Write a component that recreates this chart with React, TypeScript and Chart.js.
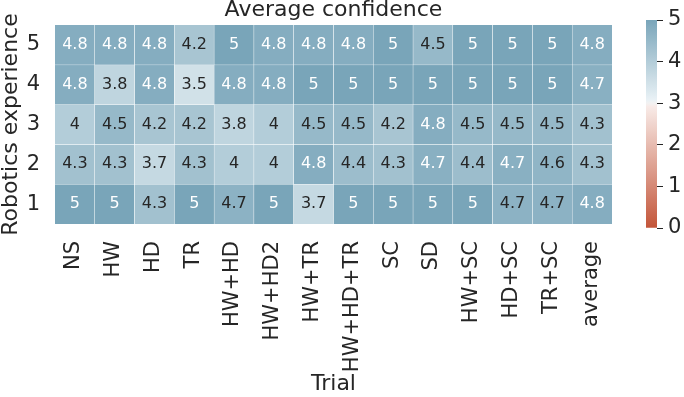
import React, { useEffect, useRef } from "react";
import { Chart, registerables } from "chart.js";

Chart.register(...registerables);

const TRIALS = ["NS", "HW", "HD", "TR", "HW+HD", "HW+HD2", "HW+TR", "HW+HD+TR", "SC", "SD", "HW+SC", "HD+SC", "TR+SC", "average"];
const EXPERIENCE = [5, 4, 3, 2, 1];

const ROW_5 = [4.8, 4.8, 4.8, 4.2, 5, 4.8, 4.8, 4.8, 5, 4.5, 5, 5, 5, 4.8];
const ROW_4 = [4.8, 3.8, 4.8, 3.5, 4.8, 4.8, 5, 5, 5, 5, 5, 5, 5, 4.73];
const ROW_3 = [4, 4.5, 4.2, 4.2, 3.8, 4, 4.5, 4.5, 4.2, 4.8, 4.5, 4.5, 4.5, 4.3];
const ROW_2 = [4.3, 4.3, 3.7, 4.3, 4, 4, 4.8, 4.4, 4.3, 4.73, 4.4, 4.73, 4.6, 4.3];
const ROW_1 = [5, 5, 4.3, 5, 4.67, 5, 3.7, 5, 5, 5, 5, 4.67, 4.67, 4.8];
const ROWS = [ROW_5, ROW_4, ROW_3, ROW_2, ROW_1];

const COLORBAR_TICKS = [0, 1, 2, 3, 4, 5];
const V_MIN = 0;
const V_MAX = 5;
const V_CENTER = 3;

const TITLE = "Average confidence";
const X_TITLE = "Trial";
const Y_TITLE = "Robotics experience";

const FONT = "'DejaVu Sans', sans-serif";
const TEXT = "#262626";

type RGB = [number, number, number];
const RED: RGB = [195, 85, 57];
const BLUE: RGB = [63, 125, 154];
const MID: RGB = [242, 242, 242];

function rgbToHls([r, g, b]: RGB): [number, number, number] {
  const R = r / 255, G = g / 255, B = b / 255;
  const mx = Math.max(R, G, B), mn = Math.min(R, G, B);
  const l = (mx + mn) / 2;
  if (mx === mn) return [0, l, 0];
  const d = mx - mn;
  const s = l <= 0.5 ? d / (mx + mn) : d / (2 - mx - mn);
  let h;
  if (mx === R) h = ((G - B) / d) % 6;
  else if (mx === G) h = (B - R) / d + 2;
  else h = (R - G) / d + 4;
  h = (h * 60 + 360) % 360;
  return [h, l, s];
}
function hlsToRgb(h: number, l: number, s: number): RGB {
  const c = (1 - Math.abs(2 * l - 1)) * s;
  const x = c * (1 - Math.abs(((h / 60) % 2) - 1));
  const m = l - c / 2;
  let r = 0, g = 0, b = 0;
  if (h < 60) [r, g, b] = [c, x, 0];
  else if (h < 120) [r, g, b] = [x, c, 0];
  else if (h < 180) [r, g, b] = [0, c, x];
  else if (h < 240) [r, g, b] = [0, x, c];
  else if (h < 300) [r, g, b] = [x, 0, c];
  else [r, g, b] = [c, 0, x];
  return [(r + m) * 255, (g + m) * 255, (b + m) * 255];
}
function tint(rgb: RGB): RGB {
  const [h, , s] = rgbToHls(rgb);
  return hlsToRgb(h, 0.95, s);
}
const RED_LIGHT = tint(RED);
const BLUE_LIGHT = tint(BLUE);

function lerp(a: RGB, b: RGB, t: number): RGB {
  return [a[0] + (b[0] - a[0]) * t, a[1] + (b[1] - a[1]) * t, a[2] + (b[2] - a[2]) * t];
}
function cmap(v: number): RGB {
  const vr = Math.max(V_MAX - V_CENTER, V_CENTER - V_MIN);
  const p = (v - (V_CENTER - vr)) / (2 * vr);
  if (p < 0.498) return lerp(RED, RED_LIGHT, p / 0.498);
  if (p > 0.502) return lerp(BLUE_LIGHT, BLUE, (p - 0.502) / 0.498);
  return MID;
}
function rgbStr(c: RGB) {
  return `rgb(${Math.round(c[0])},${Math.round(c[1])},${Math.round(c[2])})`;
}
function lum([r, g, b]: RGB) {
  const f = (c: number) => {
    c /= 255;
    return c <= 0.03928 ? c / 12.92 : Math.pow((c + 0.055) / 1.055, 2.4);
  };
  return 0.2126 * f(r) + 0.7152 * f(g) + 0.0722 * f(b);
}
function fmt(v: number) {
  return String(Number(v.toPrecision(2)));
}

const annotatePlugin = {
  id: "annotate",
  afterDatasetsDraw(chart: any) {
    const c = chart.ctx;
    c.save();
    c.font = `16px ${FONT}`;
    c.textAlign = "center";
    c.textBaseline = "middle";
    chart.data.datasets.forEach((_: any, di: number) => {
      const meta = chart.getDatasetMeta(di);
      meta.data.forEach((el: any, i: number) => {
        const v = ROWS[di][i];
        const pt = el.getCenterPoint();
        c.fillStyle = lum(cmap(v)) > 0.408 ? TEXT : "#ffffff";
        c.fillText(fmt(v), pt.x, pt.y);
      });
    });
    c.restore();
  },
};

const xLabelsPlugin = {
  id: "xLabels",
  afterDraw(chart: any) {
    const c = chart.ctx;
    const xs = chart.scales.x;
    c.save();
    c.font = `21px ${FONT}`;
    c.fillStyle = TEXT;
    c.textAlign = "right";
    c.textBaseline = "middle";
    TRIALS.forEach((t, i) => {
      const x = xs.getPixelForTick(i);
      c.save();
      c.translate(x - 1, xs.top + 17);
      c.rotate(-Math.PI / 2);
      c.fillText(t, 0, 0);
      c.restore();
    });
    c.restore();
  },
};

const titlePlugin = {
  id: "centeredTitle",
  afterDraw(chart: any) {
    const c = chart.ctx;
    const a = chart.chartArea;
    c.save();
    c.font = `22px ${FONT}`;
    c.fillStyle = TEXT;
    c.textAlign = "center";
    c.textBaseline = "alphabetic";
    c.fillText(TITLE, (a.left + a.right) / 2, a.top - 9.5);
    c.restore();
  },
};

export default function App() {
  const mainRef = useRef<HTMLCanvasElement | null>(null);
  const cbRef = useRef<HTMLCanvasElement | null>(null);

  useEffect(() => {
    document.body.style.margin = "0";
    const datasets = ROWS.map((row, ri) => ({
      label: String(EXPERIENCE[ri]),
      data: row.map(() => [EXPERIENCE[ri] - 0.5, EXPERIENCE[ri] + 0.5]),
      backgroundColor: row.map((v) => rgbStr(cmap(v))),
      borderColor: "#ffffff",
      borderWidth: (ctx: any) => {
        const i = ctx.dataIndex;
        return {
          left: i > 0 ? 0.5 : 0,
          right: i < TRIALS.length - 1 ? 0.5 : 0,
          top: ri > 0 ? 0.5 : 0,
          bottom: ri < ROWS.length - 1 ? 0.5 : 0,
        };
      },
      borderSkipped: false,
      barPercentage: 1,
      categoryPercentage: 1,
      grouped: false,
    }));

    const main = new Chart(mainRef.current!, {
      type: "bar",
      data: { labels: TRIALS, datasets: datasets as any },
      options: {
        responsive: false,
        animation: false,
        layout: { padding: { left: 0, right: 72, top: 25, bottom: 0 } },
        plugins: {
          legend: { display: false },
          tooltip: { enabled: false },
          title: { display: false },
        },
        scales: {
          x: {
            type: "category",
            offset: true,
            grid: { display: false, drawTicks: false },
            border: { display: false },
            ticks: { display: false },
            title: {
              display: true,
              text: X_TITLE,
              color: TEXT,
              font: { family: FONT, size: 22, lineHeight: 1 },
              padding: { top: 0, bottom: 2 },
            },
            afterFit(s: any) {
              s.height = 173;
              s.paddingLeft = 0;
              s.paddingRight = 0;
            },
          },
          y: {
            type: "linear",
            min: 0.5,
            max: 5.5,
            afterBuildTicks(s: any) {
              s.ticks = EXPERIENCE.map((v) => ({ value: v }));
            },
            ticks: {
              color: TEXT,
              font: { family: FONT, size: 21 },
              padding: 15,
              callback: (v: any) => String(v),
            },
            grid: { display: false, drawTicks: false },
            border: { display: false },
            title: {
              display: true,
              text: Y_TITLE,
              color: TEXT,
              font: { family: FONT, size: 22, lineHeight: 1 },
              padding: { top: 0, bottom: 0 },
            },
            afterFit(s: any) {
              s.width = 55;
              s.paddingTop = 0;
              s.paddingBottom = 0;
            },
          },
        },
      },
      plugins: [annotatePlugin, xLabelsPlugin, titlePlugin],
    });

    const cb = new Chart(cbRef.current!, {
      type: "bar",
      data: {
        labels: [""],
        datasets: [
          {
            data: [[V_MIN, V_MAX]] as any,
            backgroundColor: (ctx: any) => {
              const chart = ctx.chart;
              if (!chart.chartArea) return "transparent";
              const y = chart.scales.y;
              const g = chart.ctx.createLinearGradient(0, y.getPixelForValue(V_MIN), 0, y.getPixelForValue(V_MAX));
              const n = 60;
              for (let k = 0; k <= n; k++) {
                const v = V_MIN + ((V_MAX - V_MIN) * k) / n;
                g.addColorStop(k / n, rgbStr(cmap(v)));
              }
              return g;
            },
            borderWidth: 0,
            barPercentage: 1,
            categoryPercentage: 1,
          },
        ],
      },
      options: {
        responsive: false,
        animation: false,
        layout: { padding: { left: 34, right: 0, top: 20, bottom: 169 } },
        plugins: { legend: { display: false }, tooltip: { enabled: false } },
        scales: {
          x: { display: false, offset: true },
          y: {
            type: "linear",
            position: "right",
            min: V_MIN,
            max: V_MAX,
            afterBuildTicks(s: any) {
              s.ticks = COLORBAR_TICKS.map((v) => ({ value: v }));
            },
            ticks: { color: TEXT, font: { family: FONT, size: 21 }, padding: 5 },
            grid: {
              display: true,
              drawOnChartArea: false,
              drawTicks: true,
              tickLength: 6,
              tickColor: TEXT,
              lineWidth: 1,
            },
            border: { display: false },
            afterFit(s: any) {
              s.width = 27;
              s.paddingTop = 0;
              s.paddingBottom = 0;
            },
          },
        },
      },
    });

    return () => {
      main.destroy();
      cb.destroy();
    };
  }, []);

  return (
    <div style={{ position: "fixed", left: 0, top: 0, width: 684, height: 397, background: "#ffffff" }}>
      <canvas ref={mainRef} width={684} height={397} style={{ position: "absolute", left: 0, top: 0, display: "block" }} />
      <canvas ref={cbRef} width={72} height={397} style={{ position: "absolute", left: 612, top: 0, display: "block" }} />
    </div>
  );
}
